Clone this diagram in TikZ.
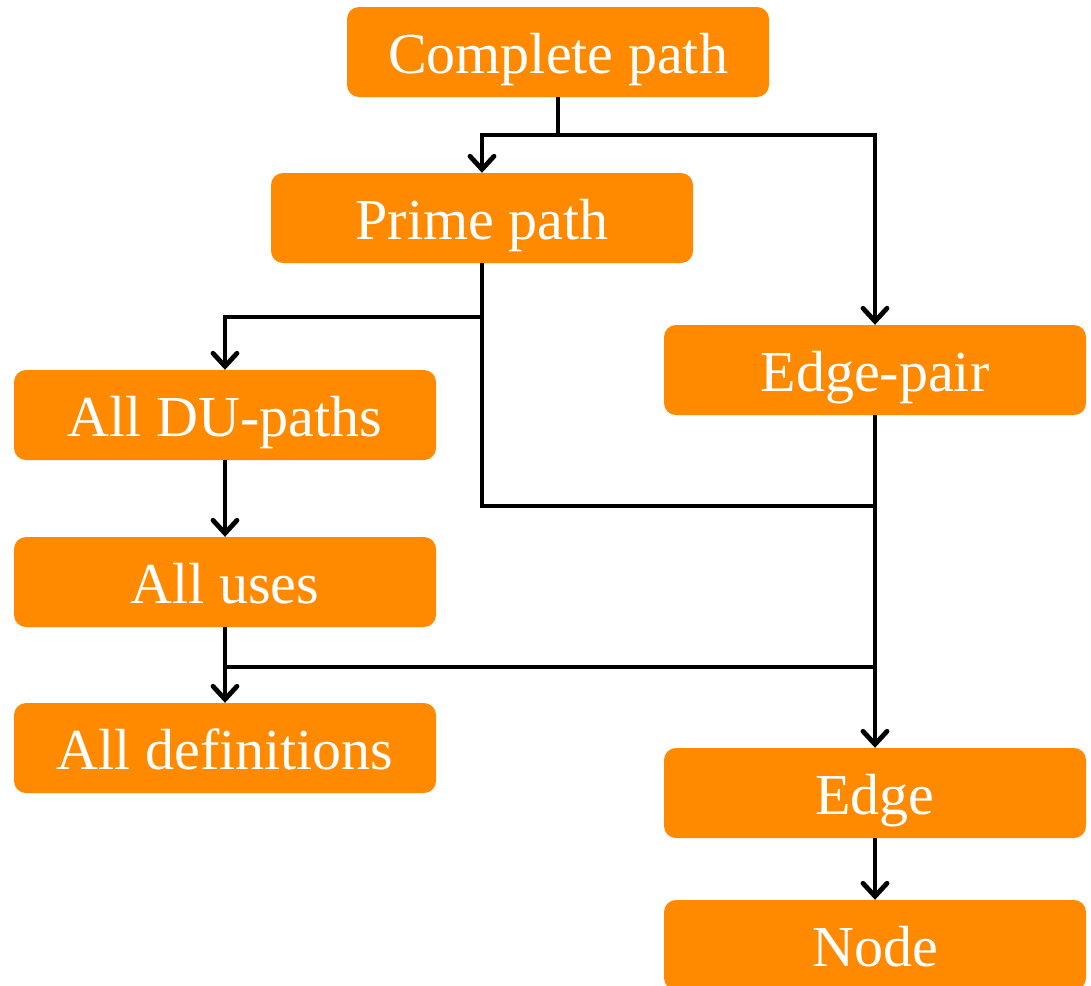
\documentclass[tikz,border=0pt]{standalone}
\usepackage{fontspec}
\setmainfont{Liberation Serif}
\usetikzlibrary{arrows.meta}
\definecolor{boxorange}{HTML}{FF8A00}
\begin{document}
\begin{tikzpicture}[x=1pt,y=-1pt,
  box/.style={fill=boxorange, rounded corners=12pt, minimum width=422pt, minimum height=90pt,
    inner sep=0pt, text height=42pt, text depth=0pt, text=white, font=\fontsize{58}{60}\selectfont},
  conn/.style={line width=4.8pt, draw=black},
  arr/.style={conn, -{Straight Barb[length=13pt,width=24pt,line width=4.8pt,line cap=round]}}]
\useasboundingbox (0,0) rectangle (1091,985);
\node[box] (cp) at (558,52) {Complete path};
\node[box] (pp) at (482,218) {Prime path};
\node[box] (ep) at (875,370) {Edge-pair};
\node[box] (du) at (225,415) {All DU-paths};
\node[box] (au) at (225,582) {All uses};
\node[box] (ad) at (225,748) {All definitions};
\node[box] (ed) at (875,793) {Edge};
\node[box] (nd) at (875,945) {Node};
\coordinate (j1) at (558,135);
\coordinate (j2) at (482,317);
\coordinate (j3) at (482,506);
\coordinate (j4) at (875,506);
\coordinate (j5) at (225,667);
\coordinate (j6) at (875,667);
\draw[arr] (cp.south) -- (j1) -| (pp.north);
\draw[arr] (j1) -| (ep.north);
\draw[arr] (pp.south) -- (j2) -| (du.north);
\draw[conn] (j2) -- (j3) -- (j4);
\draw[arr] (ep.south) -- (ed.north);
\draw[arr] (du.south) -- (au.north);
\draw[arr] (au.south) -- (ad.north);
\draw[conn] (j5) -- (j6);
\draw[arr] (ed.south) -- (nd.north);
\end{tikzpicture}
\end{document}
